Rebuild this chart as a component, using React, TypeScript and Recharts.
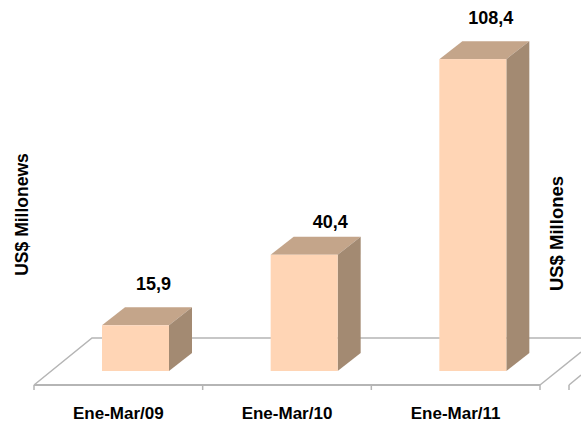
import { Bar, BarChart, Customized, LabelList, XAxis, YAxis } from "recharts";

const periods = ["Ene-Mar/09", "Ene-Mar/10", "Ene-Mar/11"];
const amounts = [15.9, 40.4, 108.4];
const amountLabels = ["15,9", "40,4", "108,4"];

const chartData = periods.map((period, i) => ({
  period,
  amount: amounts[i],
  label: amountLabels[i],
}));

const WIDTH = 581;
const HEIGHT = 423;
const XAXIS_HEIGHT = 30;
const MARGIN = { top: 11, right: 41, bottom: 8, left: 34 };
const FLOOR_Y = HEIGHT - MARGIN.bottom - XAXIS_HEIGHT;
const FLOOR_RIGHT = WIDTH - MARGIN.right;
const BAND = (FLOOR_RIGHT - MARGIN.left) / periods.length;

// the bars stand on the floor, a bit behind the front edge
const SHIFT_X = 17;
const SHIFT_Y = 14;
const DEPTH_X = 23;
const DEPTH_Y = 18;

const FONT = "'Liberation Sans', Arial, sans-serif";
const GRID = "#b5b5b5";

function Floor() {
  const left = MARGIN.left;
  const ticks = [0, 1, 2, 3].map((i) => left + BAND * i);
  return (
    <g fill="none" stroke={GRID} strokeWidth={1.5}>
      <polyline points={`${left},${FLOOR_Y} ${left + 58},${FLOOR_Y - 47} ${WIDTH},${FLOOR_Y - 47}`} />
      <line x1={FLOOR_RIGHT} y1={FLOOR_Y} x2={WIDTH} y2={FLOOR_Y - 33} />
      <line x1={569} y1={FLOOR_Y} x2={WIDTH} y2={FLOOR_Y - 10} />
      <line x1={569} y1={FLOOR_Y} x2={569} y2={FLOOR_Y + 5} />
      {ticks.map((x) => (
        <line key={x} x1={x} y1={FLOOR_Y} x2={x} y2={FLOOR_Y + 5} />
      ))}
    </g>
  );
}

function AxisTitles() {
  const style = { fontFamily: FONT, fontWeight: 700, fill: "#000" };
  return (
    <g>
      <text
        x={28}
        y={214.5}
        transform="rotate(-90 28 214.5)"
        textAnchor="middle"
        style={{ ...style, fontSize: 17.5 }}
      >
        US$ Millonews
      </text>
      <text
        x={563}
        y={233.5}
        transform="rotate(-90 563 233.5)"
        textAnchor="middle"
        style={{ ...style, fontSize: 18.5 }}
      >
        US$ Millones
      </text>
    </g>
  );
}

function Box3D({ x, y, width, height }: any) {
  const l = x + SHIFT_X;
  const r = l + width;
  const t = y - SHIFT_Y;
  const b = t + height;
  return (
    <g>
      <polygon
        points={`${l},${t} ${l + DEPTH_X},${t - DEPTH_Y} ${r + DEPTH_X},${t - DEPTH_Y} ${r},${t}`}
        fill="#c4a58a"
      />
      <polygon
        points={`${r},${t} ${r + DEPTH_X},${t - DEPTH_Y} ${r + DEPTH_X},${b - DEPTH_Y} ${r},${b}`}
        fill="#a38a72"
      />
      <rect x={l} y={t} width={width} height={height} fill="#ffd5b5" />
    </g>
  );
}

function ValueLabel({ x, y, width, value, index }: any) {
  // the middle label sits a little off from the other two
  const nudge = index === 1 ? 8 : 0;
  return (
    <text
      x={x + width / 2 + SHIFT_X + 18 + nudge}
      y={y - SHIFT_Y - DEPTH_Y - 17 + nudge}
      textAnchor="middle"
      style={{ fontFamily: FONT, fontSize: 18, fontWeight: 700, fill: "#000" }}
    >
      {value}
    </text>
  );
}

export default function App() {
  return (
    <div style={{ position: "absolute", left: 0, top: 0, width: WIDTH, height: HEIGHT }}>
      <BarChart width={WIDTH} height={HEIGHT} data={chartData} margin={MARGIN} barSize={67}>
        <Customized component={Floor} />
        <XAxis
          dataKey="period"
          height={XAXIS_HEIGHT}
          tickLine={false}
          axisLine={{ stroke: GRID, strokeWidth: 2 }}
          tickMargin={16}
          tick={{ fontFamily: FONT, fontSize: 17, fontWeight: 700, fill: "#000" }}
          interval={0}
        />
        <YAxis hide domain={[0, 130]} />
        <Bar dataKey="amount" shape={<Box3D />} isAnimationActive={false}>
          <LabelList dataKey="label" content={<ValueLabel />} />
        </Bar>
        <Customized component={AxisTitles} />
      </BarChart>
    </div>
  );
}
